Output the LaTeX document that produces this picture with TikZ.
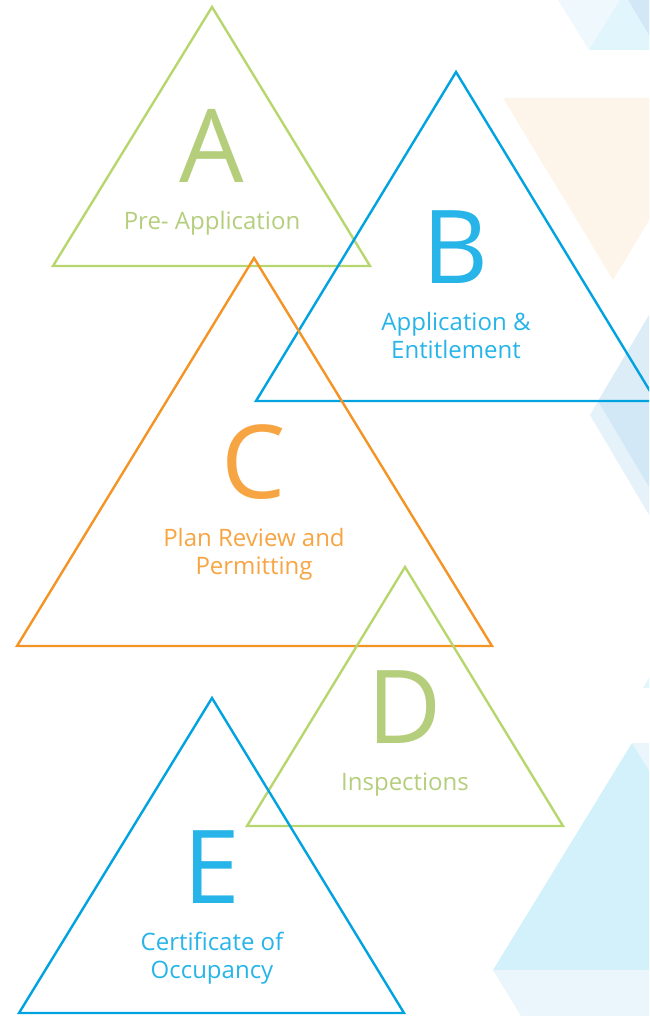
\documentclass[tikz,border=0pt]{standalone}
\usepackage{fontspec}
\setmainfont{Open Sans}

\definecolor{linegreen}{RGB}{184,214,110}
\definecolor{textgreen}{RGB}{180,206,124}
\definecolor{lineblue}{RGB}{0,163,223}
\definecolor{textblue}{RGB}{39,180,232}
\definecolor{lineorange}{RGB}{243,148,37}
\definecolor{textorange}{RGB}{247,164,67}
\definecolor{bgpale}{RGB}{239,248,253}
\definecolor{bgcyan}{RGB}{225,245,252}
\definecolor{bgblue}{RGB}{210,232,246}
\definecolor{bgmid}{RGB}{220,237,248}
\definecolor{bgmidlight}{RGB}{230,242,250}
\definecolor{bgpeach}{RGB}{253,245,234}
\definecolor{bgbig}{RGB}{211,241,251}
\definecolor{bgbiglight}{RGB}{234,246,252}

\begin{document}
\begin{tikzpicture}[x=0.5pt,y=-0.5pt,
    tri/.style={line width=1.2pt,line join=miter},
    big letter/.style={font=\fontsize{51}{51}\selectfont,anchor=base,inner sep=0pt},
    step label/.style={font=\fontsize{12}{14}\selectfont,anchor=base,align=center,inner sep=0pt}]

  \useasboundingbox (0,0) rectangle (649,1016);
  \clip (0,0) rectangle (649,1016);

  % background shapes on the right
  \fill[bgpale] (558,0) -- (589,50) -- (660,50) -- (660,0) -- cycle;
  \fill[bgcyan] (589,50) -- (620,0) -- (660,0) -- (660,50) -- cycle;
  \fill[bgblue] (628,0) -- (660,53) -- (660,0) -- cycle;
  \fill[bgpeach] (503,98) -- (723,98) -- (613,280) -- cycle;
  \fill[bgmidlight] (590,415) -- (598,401) -- (720,401) -- (720,415) -- (655,525) -- cycle;
  \fill[bgmid] (598,401) -- (649,315) -- (700,401) -- cycle;
  \fill[bgblue] (598,401) -- (710,401) -- (652,492) -- cycle;
  \fill[bgcyan] (643,688) -- (649,678) -- (649,688) -- cycle;
  \fill[bgbiglight] (632,743) -- (660,743) -- (660,790) -- cycle;
  \fill[bgbig] (493,970) -- (632,743) -- (660,789) -- (660,970) -- cycle;
  \fill[bgbiglight] (493,970) -- (660,970) -- (660,1016) -- (521,1016) -- cycle;

  % corners of the five steps
  \coordinate (Atop) at (212,7);   \coordinate (Aleft) at (53,266);  \coordinate (Aright) at (370,266);
  \coordinate (Btop) at (456,72);  \coordinate (Bleft) at (256,401); \coordinate (Bright) at (656,401);
  \coordinate (Ctop) at (254,258); \coordinate (Cleft) at (17,646);  \coordinate (Cright) at (492,646);
  \coordinate (Dtop) at (405,567); \coordinate (Dleft) at (247,826); \coordinate (Dright) at (563,826);
  \coordinate (Etop) at (212,698); \coordinate (Eleft) at (19,1013); \coordinate (Eright) at (404,1013);

  \draw[tri,linegreen] (Atop) -- (Aleft) -- (Aright) -- cycle;
  \draw[tri,lineblue] (Btop) -- (Bleft) -- (Bright) -- cycle;
  \draw[tri,lineorange] (Ctop) -- (Cleft) -- (Cright) -- cycle;
  \draw[tri,linegreen] (Dtop) -- (Dleft) -- (Dright) -- cycle;
  \draw[tri,lineblue] (Etop) -- (Eleft) -- (Eright) -- cycle;

  % letters and names (base = last line)
  \node[big letter,text=textgreen] (A) at (212,183) {A};
  \node[step label,text=textgreen] (preapp) at (212,229) {Pre- Application};

  \node[big letter,text=textblue] (B) at (456,283) {B};
  \node[step label,text=textblue] (entitle) at (456,358) {Application \&\\Entitlement};

  \node[big letter,text=textorange] (C) at (254,498) {C};
  \node[step label,text=textorange] (review) at (254,574) {Plan Review and\\Permitting};

  \node[big letter,text=textgreen] (D) at (405,743) {D};
  \node[step label,text=textgreen] (inspect) at (405,790) {Inspections};

  \node[big letter,text=textblue] (E) at (212,903) {E};
  \node[step label,text=textblue] (occupancy) at (212,978) {Certificate of\\Occupancy};

\end{tikzpicture}
\end{document}
